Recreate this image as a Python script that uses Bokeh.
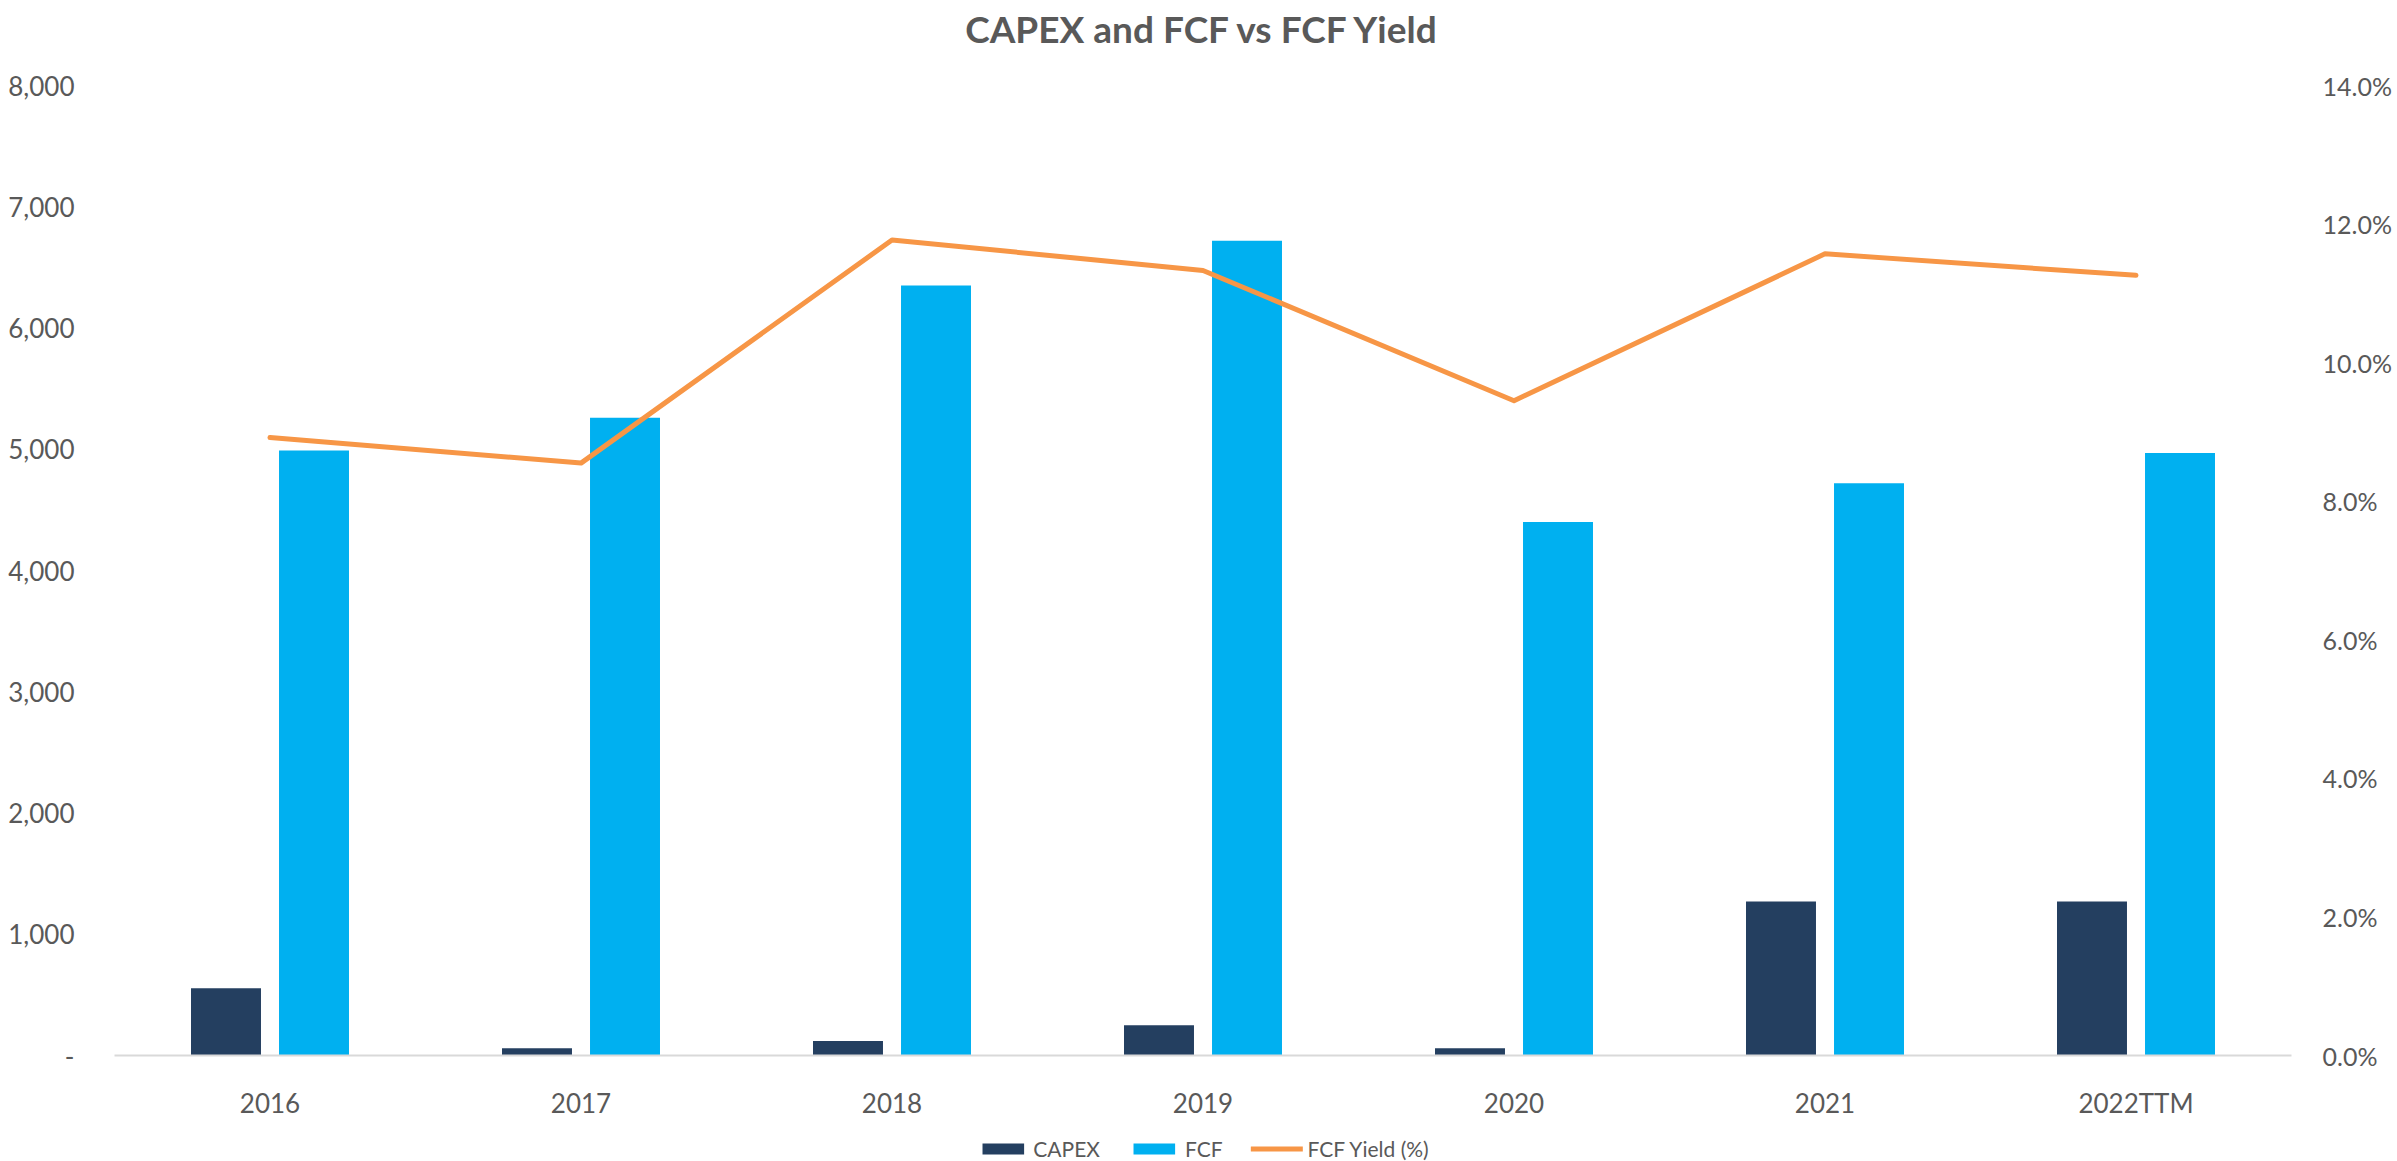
from bokeh.plotting import figure
from bokeh.layouts import column
from bokeh.models import (ColumnDataSource, FactorRange, Range1d, LinearAxis,
                          FixedTicker, Legend, LegendItem, Label)
from bokeh.transform import dodge
from bokeh.embed import file_html
from bokeh.resources import INLINE

years = ["2016", "2017", "2018", "2019", "2020", "2021", "2022TTM"]
capex = [555, 60, 120, 250, 60, 1270, 1270]
fcf = [4990, 5260, 6350, 6720, 4400, 4720, 4970]
fcf_yield = [8.92, 8.55, 11.77, 11.33, 9.45, 11.57, 11.26]  # percent

left_ticks = [0, 1000, 2000, 3000, 4000, 5000, 6000, 7000, 8000]
left_labels = ["-", "1,000", "2,000", "3,000", "4,000", "5,000", "6,000", "7,000", "8,000"]
right_ticks = [0, 2, 4, 6, 8, 10, 12, 14]
right_labels = ["0.0%", "2.0%", "4.0%", "6.0%", "8.0%", "10.0%", "12.0%", "14.0%"]
title_text = "CAPEX and FCF vs FCF Yield"

FONT = "Lato"
GREY = "#595959"
C_CAPEX = "#243F60"
C_FCF = "#00B0F0"
C_YLD = "#F79646"

# layout geometry (pixels): frame spans the full top; the value axes top out 85px below it
W, H, LEG_H = 2397, 1135, 26
BORDER_L, BORDER_R, BORDER_B = 114, 106, 80
FRAME_H = H - BORDER_B
TOP_GAP = 85
stretch = FRAME_H / (FRAME_H - TOP_GAP)

src = ColumnDataSource(dict(year=years, capex=capex, fcf=fcf, yld=fcf_yield))

p = figure(width=W, height=H, x_range=FactorRange(*years, range_padding=0),
           y_range=Range1d(0, left_ticks[-1] * stretch), output_backend="svg",
           toolbar_location=None, title=None)
p.extra_y_ranges = {"yld": Range1d(0, right_ticks[-1] * stretch)}

p.min_border_left = BORDER_L
p.min_border_right = BORDER_R
p.min_border_top = 0
p.min_border_bottom = BORDER_B
p.outline_line_color = None
p.xgrid.grid_line_color = None
p.ygrid.grid_line_color = None
p.background_fill_color = "white"
p.border_fill_color = "white"

r_capex = p.vbar(x=dodge("year", -0.1415, range=p.x_range), top="capex", width=0.225,
                 source=src, color=C_CAPEX, line_color=None)
r_fcf = p.vbar(x=dodge("year", 0.1415, range=p.x_range), top="fcf", width=0.225,
               source=src, color=C_FCF, line_color=None)
r_line = p.line(x="year", y="yld", source=src, y_range_name="yld",
                line_color=C_YLD, line_width=5, line_cap="round", line_join="round")

title = Label(x=(W - BORDER_L - BORDER_R) / 2, y=FRAME_H - 28, x_units="screen",
              y_units="screen", text=title_text, text_align="center",
              text_baseline="middle", text_font=FONT, text_font_style="bold",
              text_font_size="37px", text_color=GREY)
p.add_layout(title)

# x axis
xa = p.xaxis[0]
xa.axis_line_color = "#D9D9D9"
xa.axis_line_width = 2
xa.major_tick_line_color = None
xa.minor_tick_line_color = None
xa.major_label_text_font = FONT
xa.major_label_text_font_size = "26px"
xa.major_label_text_color = GREY
xa.major_label_standoff = 25

# left axis
ya = p.yaxis[0]
ya.ticker = FixedTicker(ticks=left_ticks)
ya.major_label_overrides = {t: l for t, l in zip(left_ticks, left_labels)}
ya.axis_line_color = None
ya.major_tick_line_color = None
ya.minor_tick_line_color = None
ya.major_label_text_font = FONT
ya.major_label_text_font_size = "26px"
ya.major_label_text_color = GREY
ya.major_label_standoff = 34

# right axis
ra = LinearAxis(y_range_name="yld", ticker=FixedTicker(ticks=right_ticks))
ra.major_label_overrides = {t: l for t, l in zip(right_ticks, right_labels)}
ra.axis_line_color = None
ra.major_tick_line_color = None
ra.minor_tick_line_color = None
ra.major_label_text_font = FONT
ra.major_label_text_font_size = "25px"
ra.major_label_text_color = GREY
ra.major_label_standoff = 25
p.add_layout(ra, "right")

# legend strip below the chart: swatch renderers share the series' source and style,
# with zero-width bars and values far outside this strip's visible range
q = figure(width=W, height=LEG_H, x_range=FactorRange(*years), y_range=Range1d(-100000, -99999),
           x_axis_type=None, y_axis_type=None, output_backend="svg",
           toolbar_location=None, min_border=0, title=None)
q.outline_line_color = None
q.xgrid.grid_line_color = None
q.ygrid.grid_line_color = None
q.background_fill_color = "white"
q.border_fill_color = "white"
lg_capex = q.vbar(x="year", top="capex", width=0, source=src, color=C_CAPEX, line_color=None)
lg_fcf = q.vbar(x="year", top="fcf", width=0, source=src, color=C_FCF, line_color=None)
lg_line = q.line(x="year", y="yld", source=src, line_color=C_YLD, line_width=5, line_cap="round")

legend = Legend(items=[LegendItem(label="CAPEX", renderers=[lg_capex]),
                       LegendItem(label="FCF", renderers=[lg_fcf]),
                       LegendItem(label="FCF Yield (%)", renderers=[lg_line])],
                orientation="horizontal", location="center")
legend.label_text_font = FONT
legend.label_text_font_size = "21px"
legend.label_text_color = GREY
legend.glyph_width = 52
legend.glyph_height = 14
legend.label_standoff = 5
legend.spacing = 28
legend.padding = 0
legend.margin = 0
legend.border_line_color = None
legend.background_fill_alpha = 0
q.add_layout(legend)

layout = column(p, q, spacing=0)
open("out.html", "w").write(file_html(layout, INLINE))
